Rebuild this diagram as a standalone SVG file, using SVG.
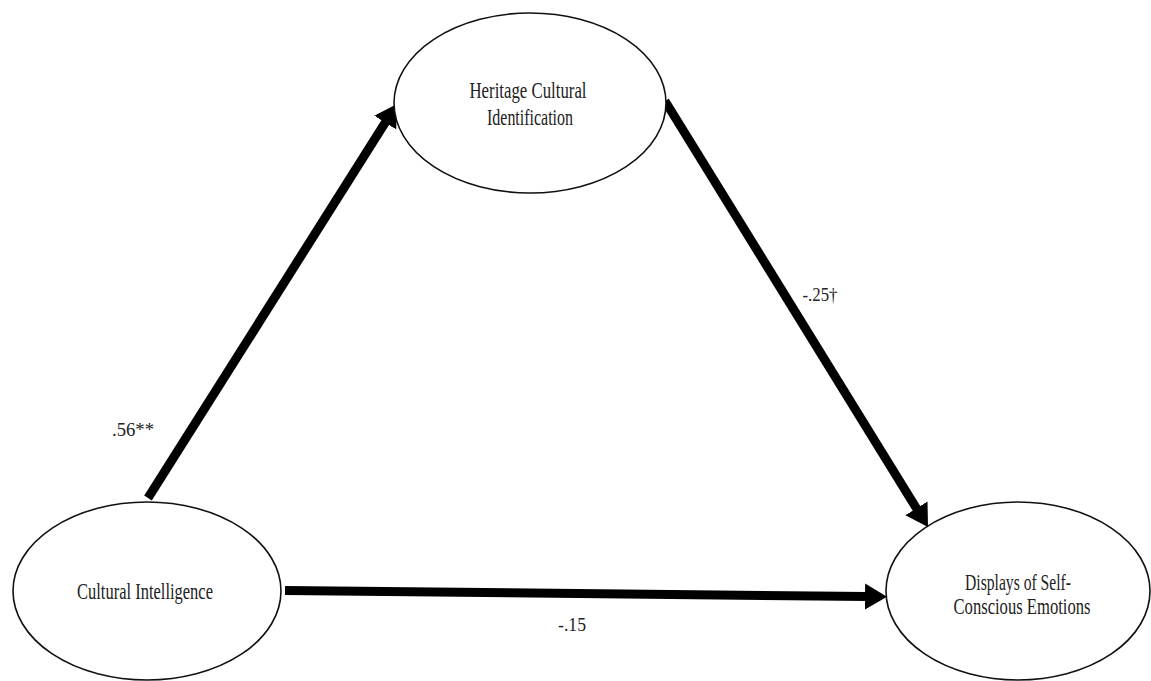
<svg xmlns="http://www.w3.org/2000/svg" width="1151" height="681" viewBox="0 0 1151 681">
<style>
.node{fill:#fff;stroke:#111;stroke-width:1.6}
.lbl{font-family:"Liberation Serif",serif;fill:#222;text-anchor:middle}
.conn{stroke:#000;stroke-width:9;fill:none}
</style>
<defs>
<marker id="ah" markerUnits="userSpaceOnUse" markerWidth="26" markerHeight="28" refX="2" refY="13" orient="auto">
<path d="M0,0 L22,13 L0,26 z" fill="#000"/>
</marker>
</defs>
<rect width="1151" height="681" fill="#fff"/>
<g id="connectors">
<path class="conn" d="M148,498 L386.3,120.9" marker-end="url(#ah)"/>
<path class="conn" d="M665,101 L917.5,510" marker-end="url(#ah)"/>
<path class="conn" d="M285,590.5 L867,596.5" marker-end="url(#ah)"/>
<text class="lbl" x="133" y="436" font-size="19.5" textLength="42" lengthAdjust="spacingAndGlyphs">.56**</text>
<text class="lbl" x="820" y="301" font-size="19.5" textLength="35" lengthAdjust="spacingAndGlyphs">-.25†</text>
<text class="lbl" x="572" y="631" font-size="19.5" textLength="28" lengthAdjust="spacingAndGlyphs">-.15</text>
</g>
<g id="heritage">
<ellipse class="node" cx="530" cy="103" rx="136" ry="90"/>
<text class="lbl" x="528" y="98" font-size="23" textLength="117" lengthAdjust="spacingAndGlyphs">Heritage Cultural</text>
<text class="lbl" x="530" y="125" font-size="23" textLength="86" lengthAdjust="spacingAndGlyphs">Identification</text>
</g>
<g id="cultural-intelligence">
<ellipse class="node" cx="147" cy="591" rx="134" ry="89"/>
<text class="lbl" x="145" y="599" font-size="22.5" textLength="136" lengthAdjust="spacingAndGlyphs">Cultural Intelligence</text>
</g>
<g id="displays">
<ellipse class="node" cx="1018" cy="591" rx="132" ry="89"/>
<text class="lbl" x="1018" y="590" font-size="22.5" textLength="106" lengthAdjust="spacingAndGlyphs">Displays of Self-</text>
<text class="lbl" x="1022" y="614" font-size="22.5" textLength="137" lengthAdjust="spacingAndGlyphs">Conscious Emotions</text>
</g>
</svg>
